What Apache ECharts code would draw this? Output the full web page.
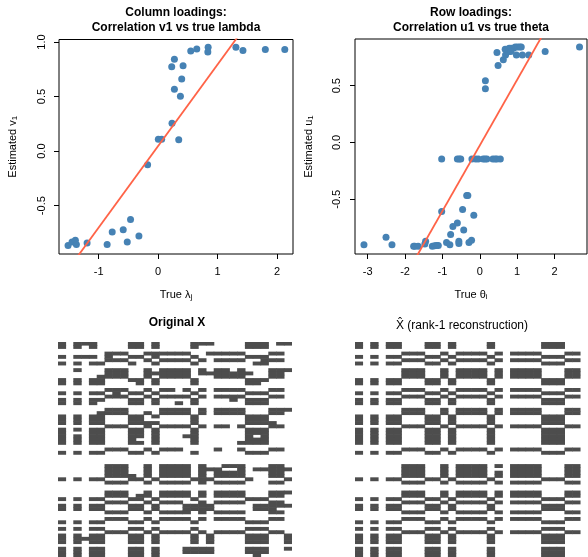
<!DOCTYPE html>
<html><head><meta charset="utf-8">
<script src="https://cdn.jsdelivr.net/npm/echarts@6/dist/echarts.min.js"></script>
<style>html,body{margin:0;padding:0;background:#fff}#c{width:588px;height:557px}</style>
</head><body><div id="c"></div>
<script>
// ---- data ----
const lambdaTrue = [-1.514,-1.447,-1.391,-1.374,-1.194,-0.857,-0.772,-0.587,-0.519,-0.464,-0.323,-0.177,0.003,0.059,0.233,0.346,0.374,0.273,0.396,0.228,0.419,0.273,0.548,0.649,0.840,0.835,1.307,1.425,1.801,2.128];
const v1Est = [-0.864,-0.833,-0.818,-0.857,-0.842,-0.857,-0.742,-0.721,-0.833,-0.627,-0.778,-0.124,0.109,0.109,0.255,0.104,0.503,0.567,0.661,0.773,0.782,0.843,0.918,0.936,0.952,0.909,0.952,0.922,0.931,0.931];
const thetaTrue = [-3.10,-2.51,-2.35,-1.77,-1.74,-1.65,-1.45,-1.47,-1.27,-1.21,-1.16,-1.11,-1.02,-0.89,-0.80,-0.78,-0.72,-0.60,-0.56,-0.56,-0.46,-0.43,-0.35,-0.32,-0.29,-0.22,-0.16,
 -1.02,-0.60,-0.55,-0.51,-0.21,-0.11,-0.04,0.09,0.14,0.19,0.35,0.41,0.46,0.55,
 0.15,0.15,0.46,0.49,0.63,0.69,0.68,0.74,0.79,0.84,0.90,0.95,1.01,1.07,1.11,0.77,0.83,0.98,1.14,1.31,1.75,2.67];
const u1Est = [-0.901,-0.834,-0.901,-0.913,-0.913,-0.913,-0.869,-0.895,-0.913,-0.910,-0.908,-0.908,-0.608,-0.88,-0.90,-0.81,-0.74,-0.71,-0.87,-0.89,-0.59,-0.77,-0.467,-0.467,-0.88,-0.86,-0.64,
 -0.146,-0.146,-0.146,-0.146,-0.146,-0.146,-0.146,-0.146,-0.146,-0.146,-0.146,-0.146,-0.146,-0.146,
 0.544,0.473,0.793,0.678,0.729,0.77,0.82,0.82,0.83,0.83,0.83,0.84,0.84,0.84,0.84,0.80,0.80,0.77,0.77,0.77,0.80,0.84];
const colFit = {intercept:0.047, slope:0.748};
const rowFit = {intercept:-0.026, slope:0.578};
const colTicksX = [-1,0,1,2], colTicksY = [-0.5,0,0.5,1];
const rowTicksX = [-3,-2,-1,0,1,2], rowTicksY = [-0.5,0,0.5];
const colRange = {xmin:-1.666,xmax:2.266,ymin:-0.943,ymax:1.023};
const rowRange = {xmin:-3.34,xmax:2.87,ymin:-0.982,ymax:0.911};
// binary matrices (rows top to bottom, 30 columns)
const XhatRows = [
"101011000110100001000000111000","101011000110100001000000111000","000000000000000000000000000000",
"000000111001011110101111000110","101011000110100001000000111000","000000111001011110101111000110",
"101011000110100001000000111000","000000000000000000000000000000","000000111001011110101111000110",
"000000111001011110101111000110","000000111001011110101111000110","101011000110100001000000111000",
"101011000110100001000000111000","000000000000000000000000000000","000000111001011110101111000110",
"101011000110100001000000111000","000000111001011110101111000110","101011000110100001000000111000",
"101011000110100001000000111000","000000000000000000000000000000","000000111001011110101111000110",
"000000111001011110101111000110","101011000110100001000000111000","101011000110100001000000111000",
"101011000110100001000000111000","000000111001011110101111000110","101011000110100001000000111000",
"101011000110100001000000111000","101011000110100001000000111000","101011000110100001000000111000",
"101011000110100001000000111000","000000000000000000000000000000","000000111001011110101111000110",
"101011000110100001000000111000","000000000000000000000000000000","000000000000000000000000000000",
"000000000000000000000000000000","000000111001011110101111000110","000000111001011110001111000110",
"000000111001011110101111000110","000000111001011110101111000110","101011000110100001000000111000",
"000000111001011110101111000110","000000000000000000000000000000","000000000000000000000000000000",
"000000111001011110101111000110","000000111001011110101111000110","101011000110100001000000111000",
"000000111001011110101111000110","101011000110100001000000111000","101011000110100001000000111000",
"000000111001011110101111000110","000000000000000000000000000000","000000111001011110101111000110",
"101011000110100001000000111000","000000000000000000000000000000","101011000110100001000000111000",
"000000111001011110101111000110","101011000110100001000000111000","101011000110100001000000111000",
"101011000110100001000000111000","000000000000000000000000000000","101011000110100001000000111000",
"101011000110100001000000111000","101011000110100001000000111000"];
const XRows = [
"101110000110100001110000111011","101010000110100001000000111000","000000000000000000000000000000",
"000000111001111110011111000110","101110100110100001000000111000","000000111001011110101111001110",
"101011000100100001000000011000","000000000000000000000000000000","001000111001011110101101000111",
"000000111001111110111111100110","000001111001011110001111000110","101011000110100001000000111000",
"101011000010100001000000110000","000000000000000000000000000000","000000111001011010101111000110",
"101011010110100001000000111000","000000111001011110101111000110","101011000110100001000010111000",
"101010000110100101000000111000","000000000000000000000000000000","000000111000011110101111000111",
"000001111001011110101111000110","101011000110100001000000111000","101011000110000001000000111000",
"101011000111100001000000111100","000000111001011110101101000110","101011000110100001000000111000",
"100011000110100001000000111000","101011000110100011000000101000","101011000100100001000000111000",
"101011000110100001000001111000","000000000000000000000000000000","000000111001011100001001000110",
"101011000110100001000000111000","000000000000000000000000000000","000000000000000000000000000000",
"000000000000000000000000000000","000000111001011110100111000110","000000111001011110111001011111",
"000000111001011110101111000110","000000111101011110101111000110","101011000110100001110000100001",
"000000111001011110101111000110","000000000000000000000000000000","000000000000000000000000000000",
"000000111001011110101111000111","000000111011011110101111000110","101011000110100001000000111000",
"000000111001011100101111000110","101011000110100011110000011111","101011000110100011110000011100",
"000000111001011110101111000110","000000000000000000000000000000","000000111001011110101111000110",
"101011000110100001000000111000","000000000000000000000000000000","101011000110100001000000111000",
"000000111001011110101111000110","101011000110100001010000111001","101111000110100001010000111001",
"101011000110100001010000111001","000000000000000000000000000000","101011000110100011110000111001",
"101011000110100011110000111000","101011000110100000000000010000"];
// ---- chart ----
const FONT = 'Liberation Sans, Arial, sans-serif';
const chart = echarts.init(document.getElementById('c'));
function cells(rows){const d=[];rows.forEach((r,i)=>{for(let j=0;j<r.length;j++) if(r[j]==='1') d.push([j,i]);});return d;}
function fitLine(f,r){return [[r.xmin-1,f.intercept+f.slope*(r.xmin-1)],[r.xmax+1,f.intercept+f.slope*(r.xmax+1)]];}
function valAxis(idx,r,axis,ticks,extra){
  const o={type:'value',gridIndex:idx,min:axis==='x'?r.xmin:r.ymin,max:axis==='x'?r.xmax:r.ymax,
    axisLine:{show:false,onZero:false},splitLine:{show:false},
    axisTick:{show:true,customValues:ticks,length:5,lineStyle:{color:'#000',width:1}},
    nameLocation:'middle',nameTextStyle:{color:'#000',fontSize:11,fontFamily:FONT,
      rich:{s:{fontSize:8,fontFamily:FONT,color:'#000',verticalAlign:'bottom',padding:[5,0,0,0]}}}};
  return Object.assign(o,extra);
}
const nRows = XRows.length, nCols = XRows[0].length;
function cellItem(params, api){
  const c = api.value(0), r = api.value(1);
  const p0 = api.coord([c, r]), p1 = api.coord([c+1, r+1]);
  return {type:'rect',shape:{x:Math.min(p0[0],p1[0])-0.3,y:Math.min(p0[1],p1[1])-0.3,
    width:Math.abs(p1[0]-p0[0])+0.6,height:Math.abs(p1[1]-p0[1])+0.6},style:{fill:'#4d4d4d'}};
}
chart.setOption({
  animation:false,
  grid:[
    {left:59,top:39.5,width:234,height:214.5,show:true,borderColor:'#000',borderWidth:1,backgroundColor:'transparent'},
    {left:355,top:39,width:232,height:215,show:true,borderColor:'#000',borderWidth:1,backgroundColor:'transparent'},
    {left:58,top:342,width:234,height:215},
    {left:355,top:342,width:233,height:215}
  ],
  xAxis:[
    valAxis(0,colRange,'x',colTicksX,{name:'True λ{s|j}',nameGap:34,axisLabel:{customValues:colTicksX,color:'#000',fontSize:11,fontFamily:FONT,margin:12}}),
    valAxis(1,rowRange,'x',rowTicksX,{name:'True θ{s|i}',nameGap:34,axisLabel:{customValues:rowTicksX,color:'#000',fontSize:11,fontFamily:FONT,margin:12}}),
    {type:'value',gridIndex:2,min:0,max:nCols,show:false,splitLine:{show:false}},
    {type:'value',gridIndex:3,min:0,max:nCols,show:false,splitLine:{show:false}}
  ],
  yAxis:[
    valAxis(0,colRange,'y',colTicksY,{name:'Estimated v{s|1}',nameGap:40,axisLabel:{customValues:colTicksY,formatter:v=>v.toFixed(1),rotate:90,color:'#000',fontSize:11,fontFamily:FONT,margin:12}}),
    valAxis(1,rowRange,'y',rowTicksY,{name:'Estimated u{s|1}',nameGap:40,axisLabel:{customValues:rowTicksY,formatter:v=>v.toFixed(1),rotate:90,color:'#000',fontSize:11,fontFamily:FONT,margin:13}}),
    {type:'value',gridIndex:2,min:0,max:nRows,inverse:true,show:false,splitLine:{show:false}},
    {type:'value',gridIndex:3,min:0,max:nRows,inverse:true,show:false,splitLine:{show:false}}
  ],
  series:[
    {type:'scatter',xAxisIndex:0,yAxisIndex:0,data:lambdaTrue.map((x,i)=>[x,v1Est[i]]),symbolSize:7,itemStyle:{color:'#4682B4',opacity:1},z:3},
    {type:'line',xAxisIndex:0,yAxisIndex:0,data:fitLine(colFit,colRange),symbol:'none',lineStyle:{color:'#FF6347',width:1.8},clip:true,z:4},
    {type:'scatter',xAxisIndex:1,yAxisIndex:1,data:thetaTrue.map((x,i)=>[x,u1Est[i]]),symbolSize:7,itemStyle:{color:'#4682B4',opacity:1},z:3},
    {type:'line',xAxisIndex:1,yAxisIndex:1,data:fitLine(rowFit,rowRange),symbol:'none',lineStyle:{color:'#FF6347',width:1.8},clip:true,z:4},
    {type:'custom',xAxisIndex:2,yAxisIndex:2,data:cells(XRows),renderItem:cellItem,clip:true},
    {type:'custom',xAxisIndex:3,yAxisIndex:3,data:cells(XhatRows),renderItem:cellItem,clip:true}
  ],
  graphic:[
    {type:'text',x:176,y:13,style:{text:'Column loadings:',align:'center',verticalAlign:'middle',font:'bold 12px '+FONT,fill:'#000'}},
    {type:'text',x:176,y:27.5,style:{text:'Correlation v1 vs true lambda',align:'center',verticalAlign:'middle',font:'bold 12px '+FONT,fill:'#000'}},
    {type:'text',x:471,y:13,style:{text:'Row loadings:',align:'center',verticalAlign:'middle',font:'bold 12px '+FONT,fill:'#000'}},
    {type:'text',x:471,y:27.5,style:{text:'Correlation u1 vs true theta',align:'center',verticalAlign:'middle',font:'bold 12px '+FONT,fill:'#000'}},
    {type:'text',x:177,y:323,style:{text:'Original X',align:'center',verticalAlign:'middle',font:'bold 12px '+FONT,fill:'#000'}},
    {type:'text',x:462,y:326,style:{text:'X\u0302 (rank-1 reconstruction)',align:'center',verticalAlign:'middle',font:'12px '+FONT,fill:'#000'}}
  ]
});
</script></body></html>
